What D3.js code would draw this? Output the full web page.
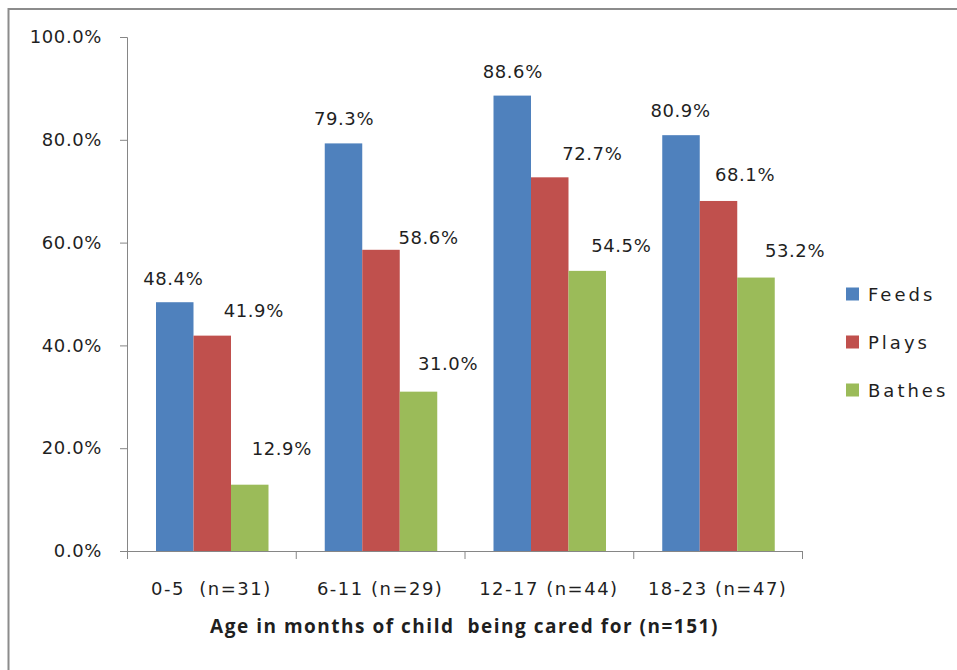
<!DOCTYPE html>
<html>
<head>
<meta charset="utf-8">
<script src="https://cdn.jsdelivr.net/npm/d3@7"></script>
<style>
  html, body { margin: 0; padding: 0; background: #ffffff; }
  svg { display: block; }
</style>
</head>
<body>
<svg id="chart" width="957" height="670"></svg>
<script>
// Age groups of the child being cared for
const categories = ["0-5  (n=31)", "6-11 (n=29)", "12-17 (n=44)", "18-23 (n=47)"];
const seriesNames = ["Feeds", "Plays", "Bathes"];

// Share of caregivers doing each activity, per age group (%)
const feeds  = [48.4, 79.3, 88.6, 80.9];
const plays  = [41.9, 58.6, 72.7, 68.1];
const bathes = [12.9, 31.0, 54.5, 53.2];

const yTicks = [0, 20, 40, 60, 80, 100];
const xTitle = "Age in months of child  being cared for (n=151)";

const colors = ["#4F81BD", "#C0504D", "#9BBB59"];

// Value-label placement: horizontal nudge from bar centre and
// rise of the baseline above the bar top (px), per series / group
const labelDx   = [[-1.5, 0.5, 0.5, -0.5], [41.5, 47.5, 42.5, 26.5], [32, 29.5, 34, 39]];
const labelRise = [[17, 18, 18, 18], [19, 6, 17, 20], [30, 22, 19, 21]];

const seriesValues = [feeds, plays, bathes];
const rows = categories.map((c, i) => ({
  category: c,
  values: seriesNames.map((s, k) => ({ series: s, k, i, value: seriesValues[k][i] }))
}));

const svg = d3.select("#chart");
const axisColor = "#868686";
const textColor = "#1f1f1f";
const font = "DejaVu Sans";
const fontSize = 18;

// Outer chart frame
svg.append("rect")
  .attr("x", 8.5).attr("y", 9)
  .attr("width", 1000).attr("height", 1000)
  .attr("fill", "none")
  .attr("stroke", "#8c8c8c")
  .attr("stroke-width", 2);

const plot = { left: 127, right: 802, top: 37, bottom: 551 };

const x0 = d3.scaleBand()
  .domain(categories)
  .range([plot.left, plot.right])
  .paddingInner(0).paddingOuter(0);

const groupInset = 29;
const x1 = d3.scaleBand()
  .domain(seriesNames)
  .range([groupInset, groupInset + 112.5])
  .padding(0);

const y = d3.scaleLinear()
  .domain([0, 100])
  .range([plot.bottom, plot.top]);

// Bars
const groups = svg.append("g")
  .selectAll("g")
  .data(rows)
  .join("g")
  .attr("transform", d => `translate(${x0(d.category)},0)`);

groups.selectAll("rect")
  .data(d => d.values)
  .join("rect")
  .attr("x", d => x1(d.series))
  .attr("y", d => y(d.value))
  .attr("width", x1.bandwidth())
  .attr("height", d => y(0) - y(d.value))
  .attr("fill", d => colors[d.k]);

// Value labels
groups.selectAll("text.value")
  .data(d => d.values)
  .join("text")
  .attr("class", "value")
  .attr("x", d => x1(d.series) + x1.bandwidth() / 2 + labelDx[d.k][d.i])
  .attr("y", d => y(d.value) - labelRise[d.k][d.i])
  .attr("text-anchor", "middle")
  .attr("font-family", font)
  .attr("font-size", fontSize)
  .attr("letter-spacing", 0.6)
  .attr("fill", textColor)
  .text(d => d.value.toFixed(1) + "%");

// Y axis
const yAxis = svg.append("g")
  .attr("transform", `translate(${plot.left},0)`)
  .call(d3.axisLeft(y)
    .tickValues(yTicks)
    .tickSize(7)
    .tickPadding(18)
    .tickFormat(d => d.toFixed(1) + "%"));
yAxis.attr("font-family", font).attr("font-size", fontSize);
yAxis.select(".domain").attr("stroke", axisColor).attr("d", `M-7,${plot.top + 0.5}H0.5V${plot.bottom}`);
yAxis.selectAll(".tick line").attr("stroke", axisColor);
yAxis.selectAll(".tick text").attr("fill", textColor).attr("letter-spacing", 0.6);

// X axis: boundary ticks between groups
const xEdges = d3.scaleLinear().domain([0, categories.length]).range([plot.left, plot.right]);
const xAxis = svg.append("g")
  .attr("transform", `translate(0,${plot.bottom})`)
  .call(d3.axisBottom(xEdges)
    .tickValues(d3.range(categories.length + 1))
    .tickSize(8)
    .tickSizeOuter(0)
    .tickFormat(""));
xAxis.select(".domain").attr("stroke", axisColor);
xAxis.selectAll(".tick line").attr("stroke", axisColor);

// X axis: category labels centred in each group
const xLabels = svg.append("g")
  .attr("transform", `translate(0,${plot.bottom})`)
  .call(d3.axisBottom(x0).tickSize(0).tickPadding(31));
xLabels.attr("font-family", font).attr("font-size", fontSize);
xLabels.select(".domain").remove();
xLabels.selectAll(".tick text")
  .attr("xml:space", "preserve")
  .style("white-space", "pre")
  .attr("letter-spacing", 1.5)
  .attr("fill", textColor);

// X axis title, spaced out to span the plot's label width
const title = svg.append("text")
  .attr("x", (plot.left + plot.right) / 2)
  .attr("y", 633)
  .attr("text-anchor", "middle")
  .attr("xml:space", "preserve")
  .style("white-space", "pre")
  .attr("font-family", "Open Sans")
  .attr("font-weight", "bold")
  .attr("font-size", 19)
  .attr("fill", textColor)
  .text(xTitle);
const titleWidth = 509;
const measured = title.node().getComputedTextLength();
title.attr("letter-spacing", ((titleWidth - measured) / xTitle.length).toFixed(2));

// Legend
const legend = svg.append("g")
  .selectAll("g")
  .data(seriesNames)
  .join("g")
  .attr("transform", (d, k) => `translate(846,${294 + k * 48})`);

legend.append("rect")
  .attr("x", 0).attr("y", -6.5)
  .attr("width", 13).attr("height", 13)
  .attr("fill", (d, k) => colors[k]);

legend.append("text")
  .attr("x", 22)
  .attr("y", 6.5)
  .attr("font-family", font)
  .attr("font-size", fontSize)
  .attr("letter-spacing", 3)
  .attr("fill", textColor)
  .text(d => d);
</script>
</body>
</html>
